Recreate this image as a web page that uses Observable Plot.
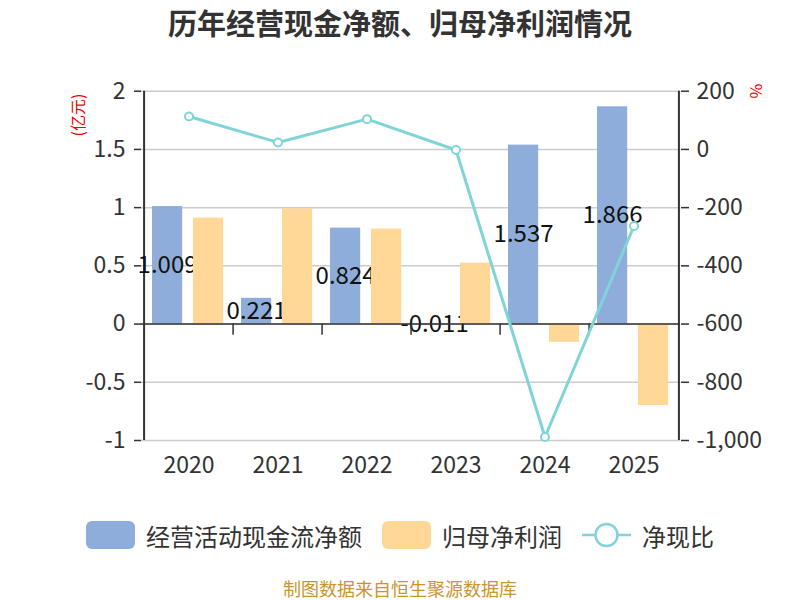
<!DOCTYPE html>
<html>
<head>
<meta charset="utf-8">
<script src="https://cdn.jsdelivr.net/npm/d3@7"></script>
<script src="https://cdn.jsdelivr.net/npm/@observablehq/plot@0.6"></script>
<style>
  body { margin: 0; background: #fff; font-family: "Noto Sans CJK SC", "Noto Sans", sans-serif; }
  #wrap { position: relative; width: 800px; height: 600px; overflow: hidden; }
  #title { height: 44px; line-height: 44px; text-align: center; font-size: 29px; font-weight: bold; color: #333; }
  #chart svg { display: block; }
  .unit { position: absolute; color: #e00; font-size: 16px; white-space: nowrap; transform-origin: center; }
  #legend { position: absolute; left: 0; top: 500px; width: 800px; height: 70px; display: flex; justify-content: center; align-items: center; }
  .item { display: flex; align-items: center; font-size: 24px; color: #333; margin: 0 10px; }
  .sw { width: 49px; height: 28px; border-radius: 6px; margin-right: 11px; }
  .item svg { margin-right: 11px; }
  #caption { position: absolute; left: 0; top: 576px; width: 800px; height: 24px; line-height: 24px; text-align: center; font-size: 18px; color: #c9962b; }
</style>
</head>
<body>
<div id="wrap">
  <div id="title">历年经营现金净额、归母净利润情况</div>
  <div id="chart"></div>
  <span class="unit" id="unitL">(亿元)</span>
  <span class="unit" id="unitR">%</span>
  <div id="legend"></div>
  <div id="caption">制图数据来自恒生聚源数据库</div>
</div>
<script>
// Years and the three series (亿元 for the bars, % for the ratio line)
const years = ["2020", "2021", "2022", "2023", "2024", "2025"];
const cashFlow = [1.009, 0.221, 0.824, -0.011, 1.537, 1.866];   // 经营活动现金流净额
const netProfit = [0.91, 0.99, 0.816, 0.523, -0.157, -0.70];    // 归母净利润
const ratio = [113, 24, 104, -2, -988, -263];                    // 净现比 (%)

const leftTicks = [2, 1.5, 1, 0.5, 0, -0.5, -1];
const names = ["经营活动现金流净额", "归母净利润", "净现比"];
const colors = { cf: "#8eadda", np: "#ffd898", ratio: "#80d4d8" };

const data = years.map((year, i) => ({ year, cf: cashFlow[i], np: netProfit[i], ratio: ratio[i] }));

// Right axis (%): [-1000, 200] shares the left axis range [-1, 2]
const pctToLeft = p => p / 400 + 1.5;
const leftToPct = v => Math.round((v - 1.5) * 400);
const fmtPct = v => d3.format(",")(leftToPct(v)).replace("\u2212", "-");
const fmtLeft = v => String(v);

const W = 800, H = 456;
const mL = 141, mR = 120;
const band = (W - mL - mR) / years.length;
const barW = 31;
const cfInsetL = 8, npInsetL = 49;

const chart = Plot.plot({
  width: W,
  height: H,
  marginTop: 46.7,
  marginBottom: 60,
  marginLeft: mL,
  marginRight: mR,
  style: { fontFamily: '"Noto Sans CJK SC", "Noto Sans", sans-serif', fontSize: "23px", color: "#333", background: "transparent" },
  x: { type: "band", domain: years, padding: 0, axis: null },
  y: { type: "linear", domain: [-1, 2], axis: null },
  marks: [
    Plot.gridY(leftTicks, { stroke: "#cccccc", strokeOpacity: 1, strokeWidth: 1.5 }),
    Plot.axisX({ tickSize: 0, tickPadding: 16, fontSize: 23, label: null }),
    Plot.axisY({ anchor: "left", ticks: leftTicks, tickFormat: fmtLeft, tickSize: 7, tickPadding: 9, fontSize: 23, strokeWidth: 1.5, label: null }),
    Plot.axisY({ anchor: "right", ticks: leftTicks, tickFormat: fmtPct, tickSize: 8, tickPadding: 8, fontSize: 23, strokeWidth: 1.5, label: null }),
    // vertical axis lines at both edges of the plot
    Plot.ruleX([years[0]], { dx: -band / 2, y1: -1, y2: 2, stroke: "#333", strokeWidth: 2 }),
    Plot.ruleX([years[years.length - 1]], { dx: band / 2, y1: -1, y2: 2, stroke: "#333", strokeWidth: 2 }),
    // cash-flow bars and their value labels
    Plot.barY(data, { x: "year", y: "cf", fill: colors.cf, insetLeft: cfInsetL, insetRight: band - cfInsetL - barW }),
    Plot.text(data, { x: "year", y: d => d.cf / 2, text: d => d.cf.toFixed(3), dx: cfInsetL + barW / 2 - band / 2, fontSize: 24, fill: "#111" }),
    // net-profit bars
    Plot.barY(data, { x: "year", y: "np", fill: colors.np, insetLeft: npInsetL, insetRight: band - npInsetL - barW }),
    // zero baseline with category separator ticks
    Plot.ruleY([0], { stroke: "#333", strokeWidth: 1.5 }),
    Plot.ruleX(years.slice(1), { dx: -band / 2, y1: 0, y2: -0.095, stroke: "#333", strokeWidth: 1.5 }),
    // ratio line on the right (%) axis
    Plot.line(data, { x: "year", y: d => pctToLeft(d.ratio), stroke: colors.ratio, strokeWidth: 3 }),
    Plot.dot(data, { x: "year", y: d => pctToLeft(d.ratio), r: 4, fill: "#fff", stroke: colors.ratio, strokeWidth: 2 })
  ]
});
document.getElementById("chart").appendChild(chart);

// axis unit labels
const uL = document.getElementById("unitL");
uL.style.left = "77px"; uL.style.top = "115px";
uL.style.transform = "translate(-50%, -50%) rotate(-90deg)";
const uR = document.getElementById("unitR");
uR.style.left = "757px"; uR.style.top = "91px";
uR.style.transform = "translate(-50%, -50%) rotate(90deg)";

// legend
const legend = document.getElementById("legend");
[[names[0], colors.cf], [names[1], colors.np]].forEach(([name, c]) => {
  const it = document.createElement("div");
  it.className = "item";
  const sw = document.createElement("div");
  sw.className = "sw";
  sw.style.background = c;
  it.appendChild(sw);
  it.appendChild(document.createTextNode(name));
  legend.appendChild(it);
});
const lineItem = document.createElement("div");
lineItem.className = "item";
lineItem.innerHTML = `<svg width="49" height="28"><line x1="0" y1="14" x2="49" y2="14" stroke="${colors.ratio}" stroke-width="2.5"/><circle cx="24.5" cy="14" r="11" fill="#fff" stroke="${colors.ratio}" stroke-width="2.5"/></svg>${names[2]}`;
legend.appendChild(lineItem);
</script>
</body>
</html>
